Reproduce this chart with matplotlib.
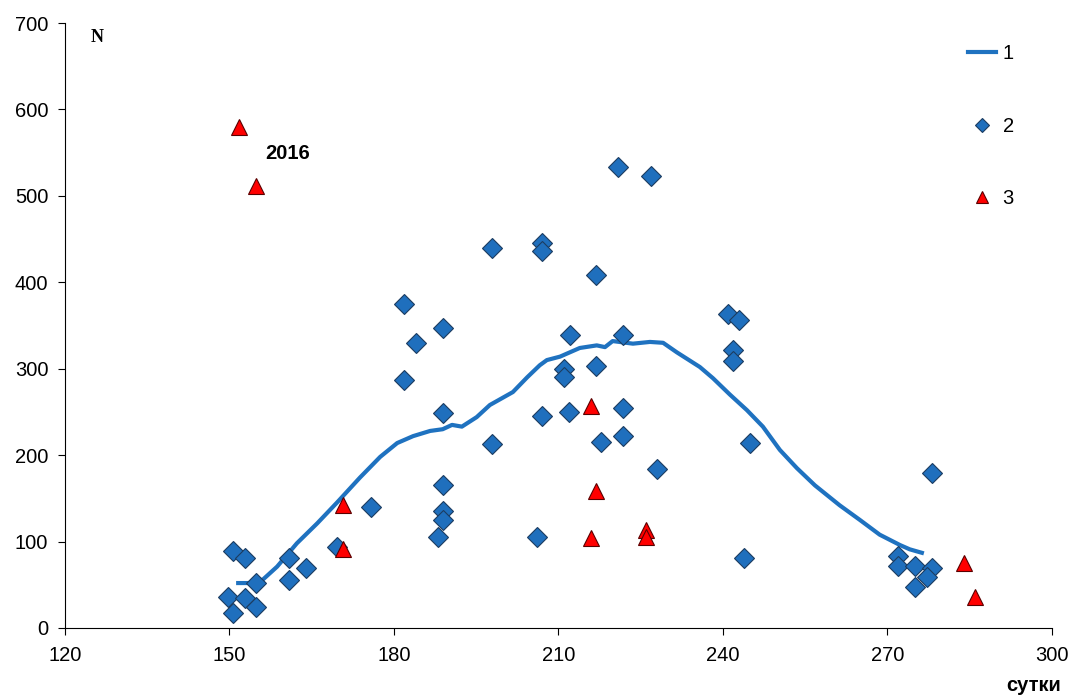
import matplotlib
matplotlib.use('Agg')
import matplotlib.pyplot as plt

# smoothed curve (1)
curve_x = [151.6, 153.7, 156.1, 158.7, 162.3, 166.0, 169.6, 173.8, 177.5, 180.6,
           183.5, 186.6, 188.9, 190.6, 192.4, 195.1, 197.5, 201.7, 204.3, 206.6,
           207.9, 210.3, 213.9, 217.0, 218.5, 219.9, 223.6, 226.7, 229.1, 231.6,
           235.8, 238.2, 241.3, 244.4, 247.3, 250.4, 253.5, 256.8, 261.3, 265.0,
           268.6, 272.3, 274.1, 276.3]
curve_y = [52, 52, 56, 71, 98, 121, 145, 174, 198, 214,
           222, 228, 230, 235, 233, 244, 258, 273, 290, 304,
           310, 314, 324, 327, 325, 332, 329, 331, 330, 319,
           302, 289, 270, 252, 233, 206, 185, 165, 142, 125,
           108, 96, 91, 87]

# observations (2)
obs_x = [150.6, 152.8, 149.7, 152.8, 150.6, 154.8, 154.8, 160.9, 160.9, 164.0,
         169.6, 175.8, 181.8, 181.8, 184.0, 188.9, 188.9, 188.9, 188.9, 188.9,
         188.0, 197.9, 197.9, 207.0, 207.0, 207.0, 206.1, 216.8, 212.1, 211.0,
         211.0, 211.9, 216.8, 217.8, 221.8, 221.8, 221.8, 220.9, 226.9, 228.0,
         240.9, 242.9, 241.8, 241.8, 244.9, 243.8,
         278.1, 271.9, 271.9, 275.0, 278.1, 277.2, 275.0]
obs_y = [89, 81, 36, 35, 17, 52, 24, 81, 56, 69,
         94, 140, 375, 287, 330, 347, 249, 165, 135, 125,
         105, 440, 213, 445, 436, 245, 105, 408, 339, 300,
         290, 250, 303, 215, 339, 255, 222, 533, 523, 184,
         363, 356, 322, 309, 214, 81,
         179, 83, 72, 72, 69, 59, 47]

# 2016 (3)
y16_x = [151.7, 154.8, 170.7, 170.7, 215.9, 216.8, 215.9, 226.0, 226.0, 284.0, 286.0]
y16_y = [580, 511, 142, 91, 257, 159, 104, 113, 105, 75, 36]

fig = plt.figure(figsize=(10.7, 6.98), dpi=100)
ax = fig.add_axes([0.0607, 0.1003, 0.9223, 0.8667])

ax.plot(curve_x, curve_y, color='#1f72c0', lw=3, zorder=2, label='1')
ax.plot(obs_x, obs_y, 'D', ms=10, color='#1f6fbd', mec='#1c3c60', mew=0.8,
        ls='none', zorder=3, label='2')
ax.plot(y16_x, y16_y, '^', ms=12, color='#ff0000', mec='#5a0000', mew=0.8,
        ls='none', zorder=4, label='3')

ax.set_xlim(120, 300)
ax.set_ylim(0, 700)
ax.set_xticks(range(120, 301, 30))
ax.set_yticks(range(0, 701, 100))
for s in ['top', 'right']:
    ax.spines[s].set_visible(False)
ax.tick_params(direction='out', length=5, labelsize=14.5, colors='black')
ax.tick_params(axis='x', pad=8)
ax.tick_params(axis='y', pad=7)
for lab in ax.get_xticklabels() + ax.get_yticklabels():
    lab.set_family('Liberation Sans')

ax.text(0.026, 0.99, 'N', transform=ax.transAxes, fontsize=13, fontweight='bold',
        family='Liberation Serif', ha='left', va='top')
ax.text(156.5, 549, '2016', fontsize=14.5, fontweight='bold', family='Liberation Sans',
        ha='left', va='center')
fig.text(0.992, 0.005, 'сутки', fontsize=14.5, fontweight='bold', family='Liberation Sans',
         ha='right', va='bottom')

leg = ax.legend(loc='upper right', bbox_to_anchor=(0.98, 0.995), frameon=False,
                labelspacing=2.65, handlelength=1.35, handletextpad=0.35,
                markerscale=0.7, prop={'family': 'Liberation Sans', 'size': 14.5})

fig.savefig('out.png', dpi=100)
